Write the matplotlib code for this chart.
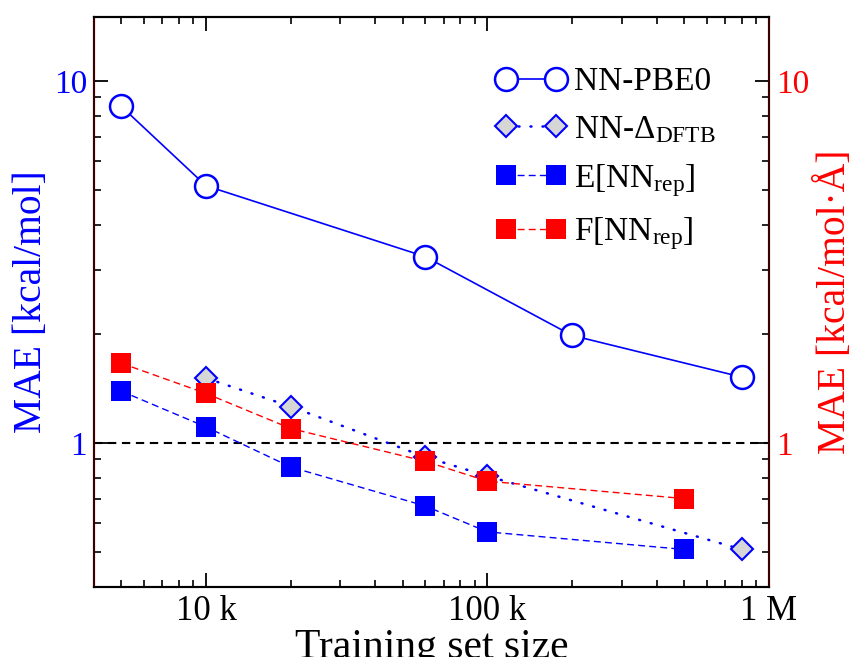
import matplotlib
matplotlib.use('Agg')
import matplotlib.pyplot as plt
from matplotlib.ticker import FixedLocator, NullFormatter, LogLocator

plt.rcParams['font.family'] = ['Liberation Serif', 'DejaVu Serif']
plt.rcParams['mathtext.fontset'] = 'custom'
plt.rcParams['mathtext.rm'] = 'Liberation Serif'
plt.rcParams['mathtext.it'] = 'Liberation Serif:italic'

# data
sizePBE0 = [5e3, 1e4, 6e4, 2e5, 8e5]
maePBE0 = [8.5, 5.13, 3.27, 1.98, 1.52]

sizeDelta = [1e4, 2e4, 6e4, 1e5, 8e5]
maeDelta = [1.51, 1.26, 0.915, 0.81, 0.508]

sizeRep = [5e3, 1e4, 2e4, 6e4, 1e5, 5e5]
maeE = [1.39, 1.107, 0.858, 0.67, 0.568, 0.508]
maeF = [1.66, 1.37, 1.096, 0.89, 0.784, 0.702]

xTicks = [1e4, 1e5, 1e6]
xTickLabels = ['10 k', '100 k', '1 M']
yTicks = [1, 10]
yTickLabels = ['1', '10']

blue = '#0000ff'
red = '#ff0000'
spineColor = '#3a0000'

fig = plt.figure(figsize=(8.59, 6.57), dpi=100)
ax = fig.add_axes([0.1094, 0.1065, 0.7858, 0.8676])
ax2 = ax.twinx()

ax.plot(sizePBE0, maePBE0, '-', color=blue, lw=1.2, marker='o', ms=16.5,
        mfc='white', mec=blue, mew=1.8, label='NN-PBE0', zorder=3)
ax.plot(sizeDelta, maeDelta, color=blue, lw=1.8, dashes=(0.4, 4.4), dash_capstyle='round',
        marker='D', ms=11, mfc='#d6d6d6', mec=blue, mew=1.5,
        label='NN-Δ$_{\\mathrm{DFTB}}$', zorder=3)
ax.plot(sizeRep, maeE, color=blue, lw=1.0, dashes=(5, 3), marker='s', ms=14.5,
        mfc=blue, mec=blue, mew=0, label='E[NN$_{\\mathrm{rep}}$]', zorder=4)
ax.plot(sizeRep, maeF, color=red, lw=1.0, dashes=(5, 3), marker='s', ms=14.5,
        mfc=red, mec=red, mew=0, label='F[NN$_{\\mathrm{rep}}$]', zorder=4)
ax.axhline(1, color='black', lw=1.5, ls=(0, (4, 2.7)), zorder=2)

for a in (ax, ax2):
    a.set_xscale('log')
    a.set_yscale('log')
    a.set_xlim(4000, 1e6)
    a.set_ylim(0.40, 15)
    a.yaxis.set_major_locator(FixedLocator(yTicks))
    a.yaxis.set_minor_locator(LogLocator(base=10, subs=range(2, 10)))
    a.yaxis.set_minor_formatter(NullFormatter())
    a.set_yticklabels(yTickLabels)
    for s in ('left', 'right'):
        a.spines[s].set_color(spineColor)
    for s in a.spines.values():
        s.set_linewidth(1.5)

ax.xaxis.set_major_locator(FixedLocator(xTicks))
ax.set_xticklabels(xTickLabels)
ax.xaxis.set_minor_locator(LogLocator(base=10, subs=range(2, 10)))
ax.xaxis.set_minor_formatter(NullFormatter())

ax.tick_params(axis='x', which='both', direction='in', top=True, bottom=True, labelsize=25, pad=6)
ax.tick_params(axis='y', which='both', direction='in', left=True, right=False,
               labelsize=24, labelcolor=blue, pad=5)
ax2.tick_params(axis='y', which='both', direction='in', left=False, right=True,
                labelsize=24, labelcolor=red, pad=5)
for a in (ax, ax2):
    a.tick_params(which='major', length=10, width=1.3)
    a.tick_params(which='minor', length=5, width=1.2)

ax.set_xlabel('Training set size', fontsize=30, labelpad=0)
ax.set_ylabel('MAE [kcal/mol]', fontsize=28.5, color=blue, labelpad=3)
ax2.set_ylabel('MAE [kcal/mol·Å]', fontsize=28.5, color=red, labelpad=5)

ax.legend(loc='upper left', bbox_to_anchor=(496 / 859, 1 - 67 / 657),
          bbox_transform=fig.transFigure, frameon=False, fontsize=24,
          numpoints=2, handlelength=2.1, handletextpad=0.25, labelspacing=0.5,
          borderpad=0, borderaxespad=0)

fig.savefig('out.png', dpi=100)
